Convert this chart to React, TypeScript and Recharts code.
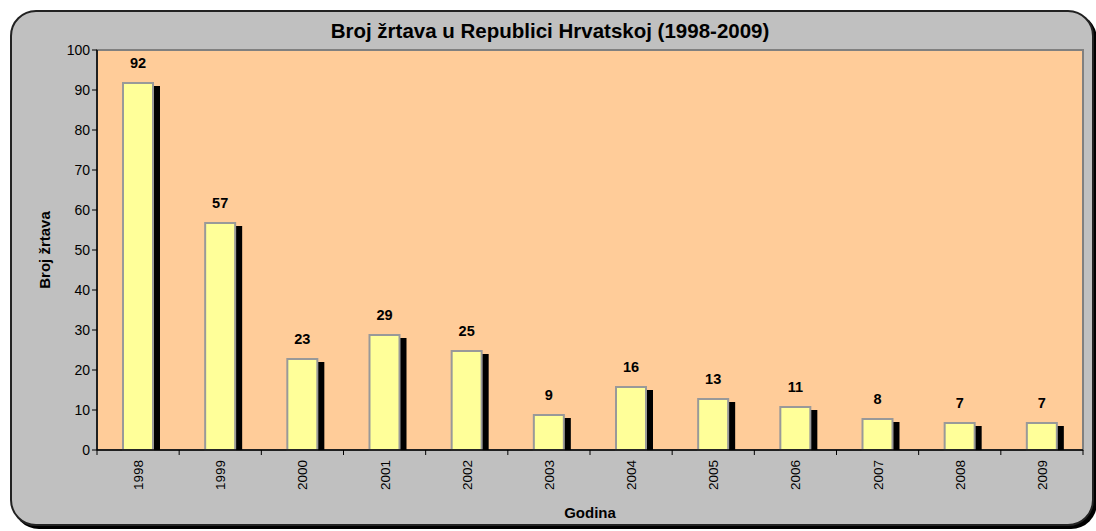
import { BarChart, Bar, XAxis, YAxis, CartesianGrid, ReferenceArea, LabelList, Label } from 'recharts'

const years = ['1998', '1999', '2000', '2001', '2002', '2003', '2004', '2005', '2006', '2007', '2008', '2009']
const victims = [92, 57, 23, 29, 25, 9, 16, 13, 11, 8, 7, 7]
const yTicks = [0, 10, 20, 30, 40, 50, 60, 70, 80, 90, 100]

const data = years.map((year, i) => ({ year, victims: victims[i] }))

const font = 'Arial, "Liberation Sans", sans-serif'

// bar with the offset black drop shadow
const ShadowBar = (props: any) => {
  const { x, y, width, height } = props
  if (!height || height <= 0) return null
  return (
    <g>
      <rect x={x + 6} y={y + 4} width={width} height={Math.max(height - 4, 0)} fill="#000000" />
      <rect x={x + 1} y={y + 1} width={width - 2} height={height - 1} fill="#FFFF99" stroke="#999999" strokeWidth={2} />
    </g>
  )
}

const YearTick = (props: any) => {
  const { x, y, payload, index } = props
  const half = payload.offset || 0
  return (
    <g>
      <line x1={x - half} y1={y - 8} x2={x - half} y2={y - 3} stroke="#000" strokeWidth={1} />
      {index === years.length - 1 && (
        <line x1={x + half} y1={y - 8} x2={x + half} y2={y - 3} stroke="#000" strokeWidth={1} />
      )}
      <text
        x={0}
        y={0}
        transform={`translate(${x + 5},${y + 2}) rotate(-90)`}
        textAnchor="end"
        fontSize={13.5}
        fontFamily={font}
        fill="#000"
      >
        {payload.value}
      </text>
    </g>
  )
}

export default function App() {
  return (
    <div style={{ position: 'absolute', left: 0, top: 0, width: 1096, height: 531, background: '#ffffff' }}>
      <div
        style={{
          position: 'absolute',
          left: 10,
          top: 10,
          width: 1080,
          height: 512,
          background: '#C0C0C0',
          border: '2px solid #222222',
          borderRadius: 26,
          boxShadow: '3px 3px 0 #000000',
        }}
      />
      <div
        style={{
          position: 'absolute',
          left: 2,
          top: 19,
          width: 1096,
          textAlign: 'center',
          fontFamily: font,
          fontWeight: 'bold',
          fontSize: 20.5,
          lineHeight: '24px',
          color: '#000',
        }}
      >
        Broj žrtava u Republici Hrvatskoj (1998-2009)
      </div>
      <div style={{ position: 'absolute', left: 0, top: 0 }}>
        <BarChart
          width={1096}
          height={531}
          data={data}
          margin={{ top: 50, right: 13, bottom: 0, left: 37 }}
          barSize={32}
        >
          <ReferenceArea y1={0} y2={100} fill="#FFCC99" fillOpacity={1} stroke="none" />
          <CartesianGrid horizontal vertical={false} stroke="#6B4A2B" strokeWidth={1.2} fill="none" />
          <ReferenceArea y1={0} y2={100} fill="none" stroke="#808080" strokeWidth={2} />
          <XAxis
            dataKey="year"
            tick={<YearTick />}
            tickLine={false}
            axisLine={{ stroke: '#000', strokeWidth: 1.5 }}
            interval={0}
            height={81}
          >
            <Label value="Godina" position="insideBottom" offset={13} style={{ fontFamily: font, fontWeight: 'bold', fontSize: 15, fill: '#000' }} />
          </XAxis>
          <YAxis
            domain={[0, 100]}
            ticks={yTicks}
            interval={0}
            width={60}
            tick={{ fill: '#000', fontSize: 14, fontFamily: font }}
            tickLine={{ stroke: '#000' }}
            tickSize={5}
            axisLine={{ stroke: '#000', strokeWidth: 1.5 }}
          >
            <Label
              value="Broj žrtava"
              angle={-90}
              position="insideLeft"
              offset={8}
              style={{ textAnchor: 'middle', fontFamily: font, fontWeight: 'bold', fontSize: 15, fill: '#000' }}
            />
          </YAxis>
          <Bar dataKey="victims" shape={<ShadowBar />} isAnimationActive={false}>
            <LabelList dataKey="victims" position="top" offset={14} style={{ fontFamily: font, fontWeight: 'bold', fontSize: 14.5, fill: '#000' }} />
          </Bar>
        </BarChart>
      </div>
    </div>
  )
}
